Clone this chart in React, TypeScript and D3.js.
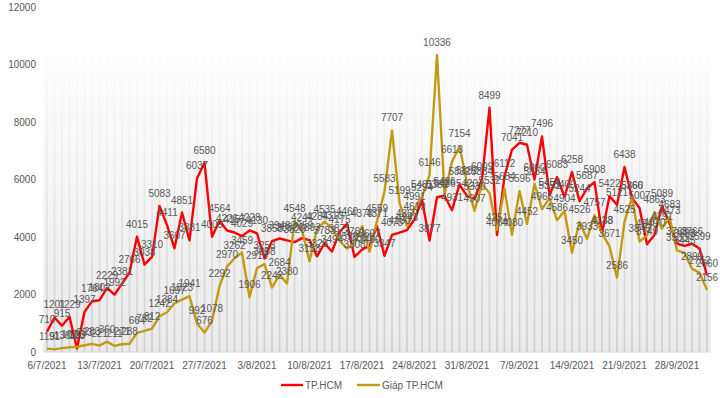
import * as d3 from "d3";

// daily values from 6/7/2021
const startDate = new Date(2021, 6, 6);

const hcm = [
  710, 1201, 915, 1229, 123, 1397, 1764, 1802, 2229, 1992, 2381, 2766, 4015, 3038, 3310, 5083,
  4411, 3607, 4851, 3881, 6037, 6580, 4009, 4564, 4226, 4157, 4029, 4228, 4130, 3253, 3858, 3948,
  3882, 3820, 3959, 3893, 3328, 3783, 3494, 4175, 4460, 3308, 3561, 3697, 4371, 3347, 4075, 4150,
  4243, 4610, 5294, 3877, 5382, 5436, 4931, 5832, 5420, 5330, 6009, 8499, 4064, 6112, 7041, 7277,
  7210, 6000, 7496, 5454, 6083, 5400, 6258, 5244, 5687, 5908, 4138, 5422, 5121, 6438, 5360, 5007,
  3749, 4070, 5089, 4473, 3768, 3688, 3766, 3599, 2660,
];

const giap = [
  119, 91, 136, 162, 183, 233, 283, 221, 360, 211, 271, 288, 664, 732, 812, 1242,
  1384, 1697, 1823, 1941, 992, 676, 1078, 2292, 2970, 3262, 3459, 1906, 2918, 3058, 2242, 2684,
  2380, 4548, 4244, 3158, 4284, 4535, 4310, 3871, 3598, 3761, 4378, 3490, 4559, 5583, 7707, 5199,
  4369, 4991, 5401, 6146, 10336, 5486, 6613, 7154, 5882, 4907, 5834, 5532, 4251, 5684, 4080, 5596,
  4452, 5854, 4966, 5351, 4586, 4904, 3450, 4526, 3933, 4757, 4133, 3671, 2586, 4525, 5366, 3845,
  4049, 4863, 4291, 4683, 3533, 3445, 2899, 2752, 2156,
];

const yTicks = [0, 2000, 4000, 6000, 8000, 10000, 12000];
const seriesNames = ["TP.HCM", "Giáp TP.HCM"];
const seriesColors = ["#ff0000", "#c39a16"];
const backdropValue = 10650;

const width = 720;
const height = 398;
const font = "'Liberation Sans', Arial, sans-serif";
const textColor = "#595959";

const dates = hcm.map((_, i) => d3.timeDay.offset(startDate, i));
const fmt = d3.timeFormat("%-d/%-m/%Y");

export default function App() {
  const x = d3.scaleBand<Date>().domain(dates).range([43.25, 710.75]).padding(0);
  const xc = (d: Date) => (x(d) ?? 0) + x.bandwidth() / 2;
  const y = d3.scaleLinear().domain([0, 12000]).range([352, 7]);

  const line = d3
    .line<number>()
    .x((_, i) => xc(dates[i]))
    .y((v) => y(v));

  const series = [hcm, giap];
  const tickDates = dates.filter((_, i) => i % 7 === 0);

  return (
    <svg
      width={width}
      height={height}
      style={{ position: "fixed", left: 0, top: 0, background: "#fff" }}
      fontFamily={font}
    >
      <defs>
        <linearGradient id="bg" x1="0" y1="0" x2="0" y2="1">
          <stop offset="0" stopColor="#ffffff" />
          <stop offset="1" stopColor="#eaeaea" />
        </linearGradient>
        <linearGradient id="stripe" x1="0" y1="0" x2="0" y2="1">
          <stop offset="0" stopColor="#ffffff" />
          <stop offset="1" stopColor="#cfcfcf" />
        </linearGradient>
      </defs>

      {/* plot area backdrop */}
      <rect
        x={43.25}
        y={y(backdropValue)}
        width={710.75 - 43.25}
        height={y(0) - y(backdropValue)}
        fill="url(#bg)"
      />
      {dates.map((d, i) => (
        <rect
          key={i}
          x={xc(d) - 0.9}
          y={y(backdropValue)}
          width={1.8}
          height={y(0) - y(backdropValue)}
          fill="url(#stripe)"
        />
      ))}
      <line x1={43.25} x2={710.75} y1={y(0)} y2={y(0)} stroke="#d9d9d9" />

      {/* y axis */}
      {yTicks.map((t) => (
        <text key={t} x={36} y={y(t)} dy="0.35em" textAnchor="end" fontSize={10} fill={textColor}>
          {t}
        </text>
      ))}

      {/* x axis */}
      {tickDates.map((d) => (
        <text key={+d} x={xc(d)} y={369} textAnchor="middle" fontSize={10} fill={textColor}>
          {fmt(d)}
        </text>
      ))}

      {/* lines */}
      {series.map((s, k) => (
        <path
          key={k}
          d={line(s) ?? ""}
          fill="none"
          stroke={seriesColors[k]}
          strokeWidth={2.4}
          strokeLinejoin="round"
        />
      ))}

      {/* data labels */}
      {series.map((s, k) => (
        <g key={k} fontSize={10} fill={textColor} textAnchor="middle">
          {s.map((v, i) => (
            <text key={i} x={xc(dates[i])} y={y(v) - 9}>
              {v}
            </text>
          ))}
        </g>
      ))}

      {/* legend */}
      <g fontSize={10} fill={textColor}>
        <line x1={281} x2={303} y1={385} y2={385} stroke={seriesColors[0]} strokeWidth={2.4} />
        <text x={305} y={385} dy="0.35em">
          {seriesNames[0]}
        </text>
        <line x1={357} x2={380} y1={385} y2={385} stroke={seriesColors[1]} strokeWidth={2.4} />
        <text x={382} y={385} dy="0.35em">
          {seriesNames[1]}
        </text>
      </g>
    </svg>
  );
}
